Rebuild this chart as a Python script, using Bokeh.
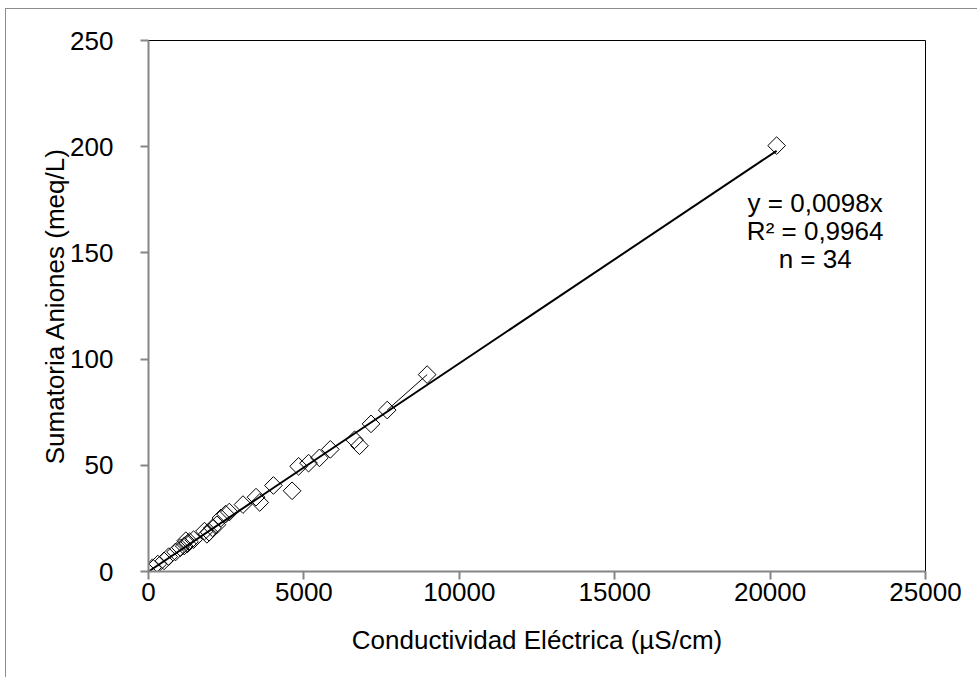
import numpy as np
from bokeh.plotting import figure
from bokeh.models import FixedTicker, Range1d
from bokeh.core.properties import value
from bokeh.embed import file_html
from bokeh.resources import INLINE

# ---- data ----
conductividad = [130, 300, 500, 650, 870, 1030, 1150, 1200, 1250, 1320, 1450,
                 1800, 1880, 1950, 2060, 2200, 2330, 2480, 2600, 3040, 3460,
                 3580, 4020, 4620, 4830, 5150, 5500, 5850, 6630, 6790, 7160,
                 7680, 8965, 20210]
aniones = [1.8, 3.5, 5.0, 7.0, 9.2, 11.2, 12.0, 14.5, 13.0, 14.0, 15.0,
           19.0, 17.5, 18.5, 20.5, 22.0, 25.2, 27.0, 28.0, 31.5, 35.0,
           32.5, 40.5, 38.0, 49.5, 51.0, 53.5, 57.5, 62.0, 59.2, 69.5,
           76.0, 92.7, 200.5]
pendiente = 0.0098
x_ticks = [0, 5000, 10000, 15000, 20000, 25000]
y_ticks = [0, 50, 100, 150, 200, 250]
ecuacion = ["y = 0,0098x", "R² = 0,9964", "n = 34"]
thin_pair = [31, 32]   # two consecutive points joined by a thin line

FONT = "Liberation Sans"
FS = "26px"
GRAY = "#868686"

p = figure(width=972, height=669, output_backend="svg", toolbar_location=None,
           x_range=Range1d(0, 25000), y_range=Range1d(0, 250),
           min_border_left=142, min_border_right=53, min_border_top=31,
           min_border_bottom=107)
p.styles = {"margin-left": "5px", "margin-top": "8px",
            "border-left": "1px solid #8c8c8c", "border-top": "1px solid #8c8c8c"}
p.background_fill_color = "white"
p.border_fill_color = "white"
p.outline_line_color = "black"
p.outline_line_width = 1
p.xgrid.visible = False
p.ygrid.visible = False

for ax in (p.xaxis[0], p.yaxis[0]):
    ax.axis_line_color = GRAY
    ax.axis_line_width = 2
    ax.major_tick_line_color = GRAY
    ax.major_tick_line_width = 2
    ax.major_tick_out = 8
    ax.major_tick_in = 0
    ax.minor_tick_line_color = None
    ax.major_label_text_font = FONT
    ax.major_label_text_font_size = FS
    ax.major_label_text_color = "black"
    ax.axis_label_text_font = FONT
    ax.axis_label_text_font_size = FS
    ax.axis_label_text_font_style = "normal"
    ax.axis_label_text_color = "black"

p.xaxis.ticker = FixedTicker(ticks=x_ticks)
p.yaxis.ticker = FixedTicker(ticks=y_ticks)
p.xaxis.axis_label = "Conductividad Eléctrica (µS/cm)"
p.yaxis.axis_label = "Sumatoria Aniones (meq/L)"
p.xaxis.major_label_standoff = 3
p.yaxis.major_label_standoff = 27
p.xaxis.axis_label_standoff = 21
p.yaxis.axis_label_standoff = -3

# trend line through origin
tx = np.array([0, max(conductividad)], dtype=float)
p.line(tx, pendiente * tx, line_color="black", line_width=2)

# thin segment between two consecutive samples
p.line([conductividad[i] for i in thin_pair], [aniones[i] for i in thin_pair],
       line_color="black", line_width=1)

# diamond markers (rotated squares, no fill)
p.scatter(conductividad, aniones, marker="square", size=12.5, angle=np.pi / 4,
          fill_alpha=0, line_color="black", line_width=1)

# equation annotation
eq_x = [21450, 21450, 21450]
eq_y = [173.7, 160.5, 147.0]
p.text(eq_x, eq_y, text=ecuacion, text_align="center", text_baseline="middle",
       text_font=value(FONT), text_font_size=FS, text_color="black")

open("out.html", "w").write(file_html(p, INLINE))
